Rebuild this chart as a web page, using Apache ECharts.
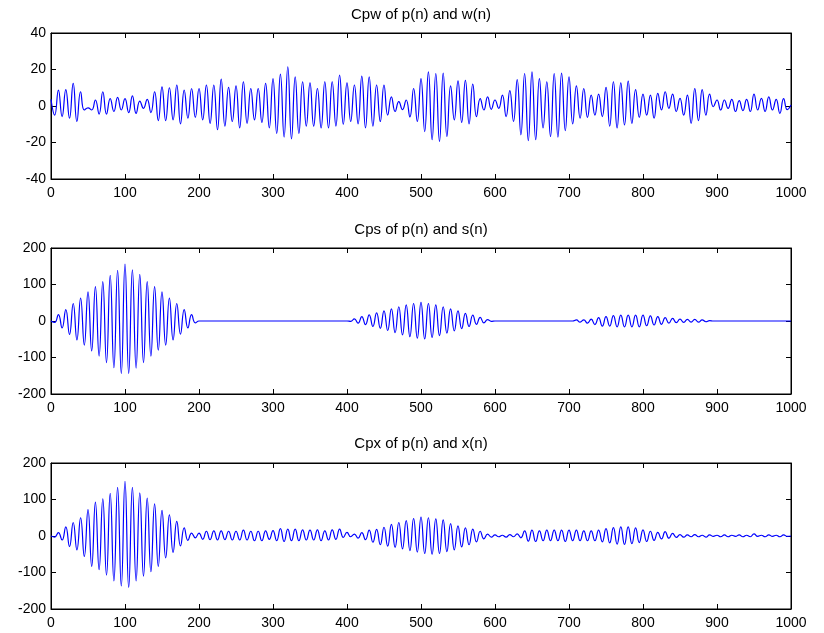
<!DOCTYPE html>
<html>
<head>
<meta charset="utf-8">
<script src="https://cdn.jsdelivr.net/npm/echarts@6/dist/echarts.min.js"></script>
<style>
  html, body { margin: 0; padding: 0; background: #ffffff; }
  #chart { width: 824px; height: 633px; }
</style>
</head>
<body>
<div id="chart"></div>
<script>
// Sample axis: n = 0 .. 1000, ticks every 100
const nTicks = [0, 100, 200, 300, 400, 500, 600, 700, 800, 900, 1000];

// Each correlation oscillates with a period of 10 samples.
// For every cycle k we keep the crest (at n = 10k) and the trough (at n = 10k + 5).

// Cpw: cross-correlation of p(n) and w(n)
const cpwCrests = [
  3.6, 8.7, 9, 12.4, 7.8, -1, 3.3, 7.8, 4, 4.7,
  4, 5.6, 2.7, 3.6, 7.8, 10.5, 10, 11.5, 8.7, 9.6,
  9.6, 11.5, 11.5, 14.7, 10.2, 11, 13.3, 9.6, 9.6, 12.4,
  15, 17.5, 21.5, 16, 13.3, 12.7, 9.6, 13.3, 13.3, 17,
  12.7, 11.5, 16.4, 16, 11.5, 11.5, 5, 2.4, 3.3, 9.6,
  15, 18.7, 17.8, 18, 11, 13.8, 14, 12, 4, 5,
  3.3, 6, 8.4, 14.5, 17.8, 18.7, 15, 13.3, 17.8, 18,
  16, 11, 9.6, 6, 6.5, 10.2, 13.3, 12.7, 13.6, 9,
  6.5, 6, 6.9, 7.8, 6.5, 4.2, 6, 9.6, 9, 6.5,
  3.3, 3.3, 3.6, 2.9, 3.6, 6.5, 4.2, 5, 3.6, 4
];
const cpwTroughs = [
  -5, -5.8, -6.7, -8.5, -2.2, -2.2, -4.4, -4.4, -3, -2.2,
  -3.6, -4, -1.3, -3.6, -8, -8, -7.6, -9.8, -6.7, -6.2,
  -7.6, -9.5, -13, -11, -8.5, -12, -9.5, -7.6, -9, -12,
  -15, -17, -18, -15, -11, -11, -12, -12, -11, -10,
  -8.5, -9.8, -12, -11, -8.5, -5, -3, -2, -6, -8.5,
  -14, -18.5, -19.4, -16.7, -7.6, -9, -9.8, -5.8, -2.2, -1.8,
  -1.3, -5.8, -8.5, -15.8, -19, -18.5, -12, -16.7, -17, -13.5,
  -9.8, -6.7, -6.2, -5, -5.8, -11, -12, -10.4, -9.5, -6.2,
  -5, -6.7, -2.2, -1.3, -3, -5, -9.5, -8, -5, -0.4,
  -2.2, -1.3, -3, -2.5, -3, -2.2, -3, -2.2, -4, -2
];
const cpwLast = 0.5;

// Cps: cross-correlation of p(n) and s(n)
const cpsCrests = [
  0, 17.6, 31, 48, 63, 80, 94, 108, 125, 139,
  156, 140, 128, 108, 94, 80, 63, 48, 31, 17.6,
  0, 0, 0, 0, 0, 0, 0, 0, 0, 0,
  0, 0, 0, 0, 0, 0, 0, 0, 0, 0,
  0, 6, 12, 17, 22, 28, 33, 39, 44, 48,
  51, 48, 44, 39, 33, 28, 21, 16, 10, 4,
  0, 0, 0, 0, 0, 0, 0, 0, 0, 0,
  0, 3, 3, 5, 9, 12, 15, 16, 16, 16,
  16, 14, 12, 9, 7, 5, 4.5, 4.5, 3, 1,
  0, 0, 0, 0, 0, 0, 0, 0, 0, 0
];
const cpsTroughs = [
  -4, -19, -37, -52, -66, -82, -96, -114, -128, -144,
  -144, -129, -114, -96, -80, -66, -52, -36, -19, -5,
  0, 0, 0, 0, 0, 0, 0, 0, 0, 0,
  0, 0, 0, 0, 0, 0, 0, 0, 0, 0,
  -1, -6, -10, -15, -20, -26, -32, -38, -43, -47,
  -49, -45, -40, -33, -27, -21, -15, -9, -5, -1,
  0, 0, 0, 0, 0, 0, 0, 0, 0, 0,
  0, -3, -6, -10, -14, -14, -16, -16, -16, -16,
  -13, -11, -9, -6, -4.5, -3.7, -3, -3, -2, 0,
  0, 0, 0, 0, 0, 0, 0, 0, 0, 0
];
const cpsLast = 0;

// Cpx: cross-correlation of p(n) and x(n)
const cpxCrests = [
  0, 9, 25, 37, 50, 72, 93, 102, 117, 133,
  150, 133, 118, 104, 88, 70, 58, 40, 22, 8,
  8, 13, 14, 14, 13, 13, 16, 13, 13, 14,
  15, 20, 19, 19, 17, 16, 17, 14, 17, 19,
  10, 5, 9, 16, 18, 24, 32, 37, 42, 48,
  52, 50, 47, 44, 34, 28, 22, 19, 13, 5,
  3, 2, 4, 6, 14, 16, 14, 16, 16, 16,
  16, 16, 14, 14, 16, 20, 23, 25, 25, 22,
  17, 13, 10, 12, 7, 4, 3, 4, 2, 3,
  2, 3, 2, 3, 2, 6, 2, 3, 2, 3
];
const cpxTroughs = [
  -3, -11, -29, -38, -56, -83, -92, -107, -123, -137,
  -141, -123, -110, -98, -83, -60, -45, -27, -12, -5,
  -9, -10, -11, -10, -11, -11, -11, -13, -13, -9,
  -13, -15, -13, -13, -11, -11, -13, -11, -9, -4,
  -2, -6, -10, -17, -24, -28, -31, -35, -40, -44,
  -48, -50, -48, -43, -38, -30, -24, -16, -8, -3,
  -2, -3, -2, -5, -14, -15, -13, -13, -13, -15,
  -13, -13, -13, -13, -16, -19, -22, -23, -21, -18,
  -15, -12, -8, -6, -4, -3, -2, -2, -3, -1,
  -2, -2, -1, -2, -2, -1, -2, -1, -2, -1
];
const cpxLast = 0;

const titles = ['Cpw of p(n) and w(n)', 'Cps of p(n) and s(n)', 'Cpx of p(n) and x(n)'];
const yRanges = [[-40, 40, 20], [-200, 200, 100], [-200, 200, 100]];

// Merge crests and troughs into [n, value] pairs in sample order
function toSeries(crests, troughs, last) {
  const pts = [];
  for (let k = 0; k < crests.length; k++) {
    pts.push([10 * k, crests[k]]);
    pts.push([10 * k + 5, troughs[k]]);
  }
  pts.push([10 * crests.length, last]);
  return pts;
}

const seriesData = [
  toSeries(cpwCrests, cpwTroughs, cpwLast),
  toSeries(cpsCrests, cpsTroughs, cpsLast),
  toSeries(cpxCrests, cpxTroughs, cpxLast)
];

const FONT = '"Liberation Sans", Arial, Helvetica, sans-serif';
const plotLeft = 51;
const plotWidth = 740;
const plotHeight = 146;
const plotTops = [33, 248, 463];
const titleTops = [7, 222, 436];

const black = '#000000';
const tickStyle = { show: true, inside: true, length: 5, lineStyle: { color: black, width: 1 } };
const lineStyleAxis = { show: true, onZero: false, lineStyle: { color: black, width: 1 } };
const plainNumber = v => String(v);

const grid = [], xAxis = [], yAxis = [], series = [], title = [];

plotTops.forEach((top, i) => {
  grid.push({
    left: plotLeft, top: top, width: plotWidth, height: plotHeight,
    show: true, borderColor: black, borderWidth: 1, backgroundColor: '#ffffff'
  });
  title.push({
    text: titles[i], left: plotLeft + plotWidth / 2, top: titleTops[i],
    textAlign: 'center', padding: 0,
    textStyle: { fontFamily: FONT, fontSize: 15, fontWeight: 'normal', color: black, lineHeight: 16 }
  });
  const xBase = {
    gridIndex: i, type: 'value', min: nTicks[0], max: nTicks[nTicks.length - 1],
    interval: nTicks[1] - nTicks[0],
    axisLine: lineStyleAxis, axisTick: tickStyle, splitLine: { show: false }
  };
  xAxis.push(Object.assign({}, xBase, {
    position: 'bottom',
    axisLabel: { show: true, color: black, fontFamily: FONT, fontSize: 14, margin: 7, formatter: plainNumber }
  }));
  xAxis.push(Object.assign({}, xBase, { position: 'top', axisLabel: { show: false } }));

  const [ymin, ymax, yint] = yRanges[i];
  const yBase = {
    gridIndex: i, type: 'value', min: ymin, max: ymax, interval: yint,
    axisLine: lineStyleAxis, axisTick: tickStyle, splitLine: { show: false }
  };
  yAxis.push(Object.assign({}, yBase, {
    position: 'left',
    axisLabel: { show: true, color: black, fontFamily: FONT, fontSize: 14, margin: 5, formatter: plainNumber }
  }));
  yAxis.push(Object.assign({}, yBase, { position: 'right', axisLabel: { show: false } }));

  series.push({
    type: 'line',
    xAxisIndex: 2 * i, yAxisIndex: 2 * i,
    data: seriesData[i],
    showSymbol: false, symbol: 'none',
    smooth: 0.5,
    lineStyle: { color: '#0000ff', width: 1.2 },
    clip: true
  });
});

const chart = echarts.init(document.getElementById('chart'), null, { renderer: 'canvas' });
chart.setOption({
  animation: false,
  backgroundColor: '#ffffff',
  title, grid, xAxis, yAxis, series
});
</script>
</body>
</html>
